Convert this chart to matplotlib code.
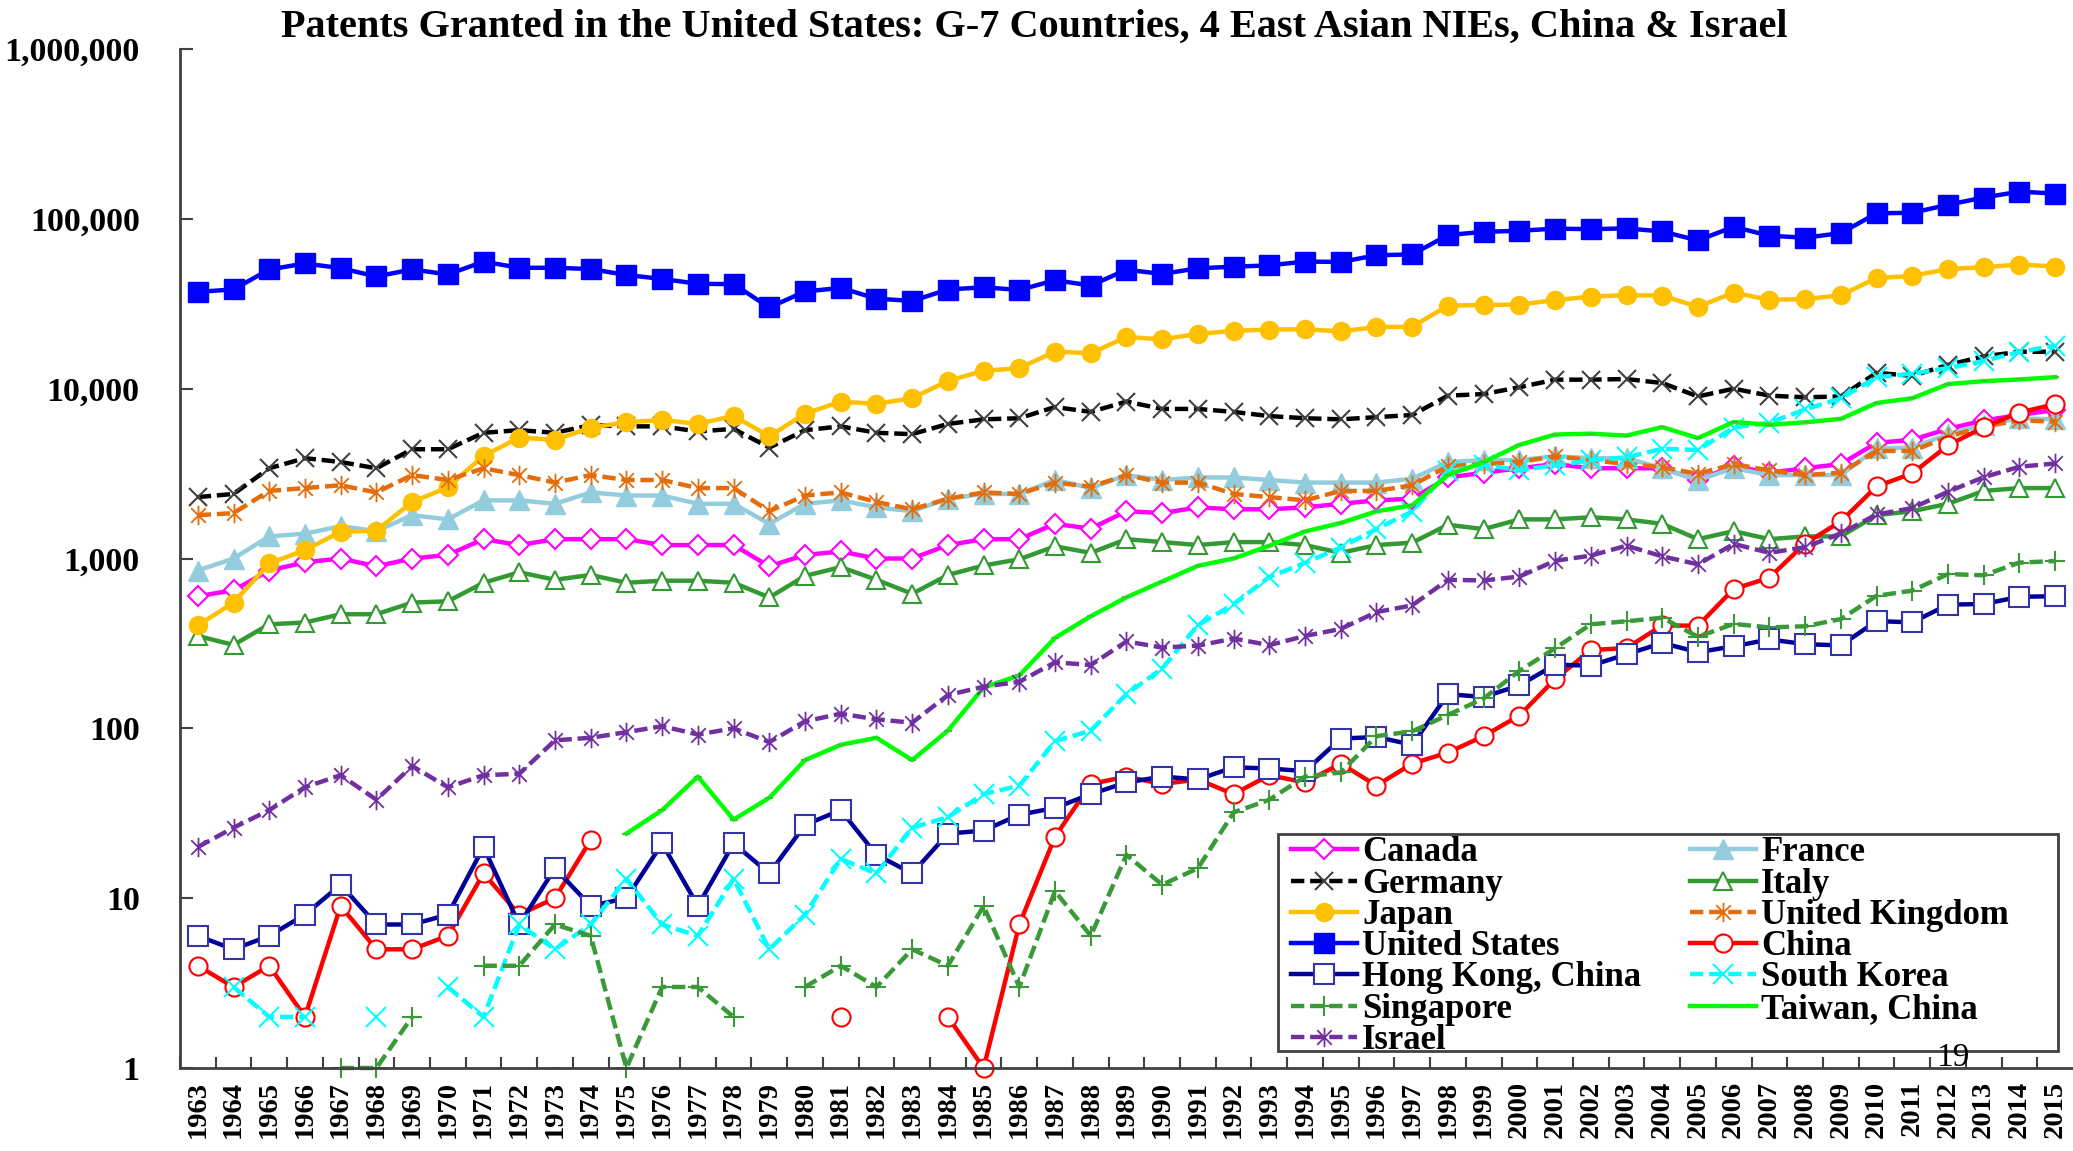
import numpy as np
import matplotlib
matplotlib.use("Agg")
import matplotlib.pyplot as plt
from matplotlib.path import Path
from matplotlib.patches import Rectangle
from matplotlib.ticker import FixedLocator, NullFormatter

nan = np.nan
years = list(range(1963, 2016))

canada = [600, 650, 850, 950, 1000, 900, 1000, 1050, 1300, 1200, 1300, 1300, 1300, 1200, 1200, 1200, 900,
          1050, 1100, 1000, 1000, 1200, 1300, 1300, 1600, 1500, 1900, 1850, 2000, 1950, 1950, 2000, 2100,
          2200, 2250, 3000, 3200, 3400, 3600, 3400, 3400, 3400, 2900, 3500, 3200, 3400, 3600, 4800, 5000,
          5800, 6500, 7000, 7500]
france = [850, 1000, 1350, 1400, 1550, 1450, 1800, 1700, 2200, 2200, 2100, 2450, 2350, 2350, 2100, 2100, 1600,
          2100, 2200, 2000, 1900, 2250, 2400, 2400, 2900, 2600, 3100, 2900, 3000, 3000, 2900, 2800, 2800,
          2800, 2950, 3700, 3800, 3800, 4000, 3900, 3900, 3400, 2900, 3400, 3100, 3100, 3100, 4450, 4500,
          5400, 6100, 6700, 6600]
germany = [2300, 2400, 3400, 3900, 3700, 3400, 4400, 4400, 5500, 5700, 5500, 6100, 6000, 6000, 5600, 5800, 4500,
           5700, 6000, 5500, 5400, 6200, 6600, 6700, 7800, 7300, 8400, 7600, 7600, 7300, 6900, 6700, 6600,
           6800, 7000, 9100, 9300, 10200, 11300, 11300, 11400, 10800, 9000, 10000, 9100, 8900, 9000, 12400,
           11900, 13800, 15500, 16500, 16500]
italy = [350, 310, 410, 420, 470, 470, 550, 560, 720, 830, 750, 800, 720, 740, 740, 720, 590,
         790, 890, 750, 620, 800, 910, 990, 1180, 1080, 1300, 1250, 1200, 1250, 1250, 1200, 1080,
         1200, 1240, 1580, 1490, 1700, 1700, 1750, 1700, 1600, 1300, 1450, 1300, 1350, 1350, 1800, 1900,
         2100, 2500, 2600, 2600]
japan = [404, 550, 935, 1122, 1435, 1460, 2152, 2625, 4029, 5151, 5000, 5888, 6352, 6542, 6211, 6911, 5251,
         7124, 8389, 8149, 8793, 11110, 12746, 13209, 16557, 16158, 20168, 19525, 21025, 21925, 22293, 22384,
         21764, 23053, 23179, 30840, 31104, 31295, 33223, 34858, 35515, 35348, 30341, 36807, 33354, 33682,
         35501, 44813, 46139, 50677, 51919, 53848, 52409]
uk = [1800, 1850, 2500, 2600, 2700, 2450, 3100, 2900, 3400, 3100, 2800, 3100, 2900, 2900, 2600, 2600, 1900,
      2350, 2450, 2150, 1950, 2250, 2450, 2400, 2800, 2650, 3100, 2800, 2800, 2400, 2300, 2200, 2500,
      2500, 2700, 3500, 3600, 3700, 4000, 3800, 3600, 3450, 3150, 3600, 3300, 3100, 3200, 4300, 4300,
      5200, 6000, 6500, 6400]
usa = [37174, 38410, 50331, 54634, 51274, 45781, 50394, 47077, 55988, 51524, 51504, 50650, 46715, 44280,
       41484, 41254, 30079, 37356, 39224, 33896, 32871, 38364, 39556, 38126, 43518, 40497, 50184, 47391,
       51177, 52253, 53231, 56066, 55739, 61104, 61707, 80289, 83905, 85068, 87600, 86971, 87893, 84270,
       74637, 89823, 79526, 77501, 82382, 107791, 108622, 121026, 133593, 144621, 140969]
china = [4, 3, 4, 2, 9, 5, 5, 6, 14, 8, 10, 22, nan, nan, nan, nan, nan,
         nan, 2, nan, nan, 2, 1, 7, 23, 47, 52, 47, 50, 41, 53, 48, 62,
         46, 62, 72, 90, 119, 195, 289, 297, 404, 402, 661, 772, 1225, 1655, 2657, 3174,
         4637, 5928, 7236, 8116]
hong_kong = [6, 5, 6, 8, 12, 7, 7, 8, 20, 7, 15, 9, 10, 21, 9, 21, 14,
             27, 33, 18, 14, 24, 25, 31, 34, 41, 48, 52, 50, 59, 58, 56, 87,
             89, 80, 159, 153, 179, 237, 234, 273, 318, 281, 304, 334, 313, 308, 428, 421,
             535, 540, 595, 600]
south_korea = [nan, 3, 2, 2, nan, 2, nan, 3, 2, 7, 5, 7, 13, 7, 6, 13, 5,
               8, 17, 14, 26, 30, 41, 46, 84, 97, 159, 225, 405, 538, 779, 943, 1161,
               1493, 1891, 3259, 3562, 3314, 3538, 3786, 3944, 4428, 4352, 5908, 6295, 7548, 8762, 11671,
               12262, 13233, 14548, 16469, 17924]
singapore = [nan, nan, nan, nan, 1, 1, 2, nan, 4, 4, 7, 6, 1, 3, 3, 2, nan,
             3, 4, 3, 5, 4, 9, 3, 11, 6, 18, 12, 15, 32, 38, 52, 55,
             90, 96, 120, 150, 218, 296, 410, 427, 448, 346, 412, 393, 399, 440, 603, 647,
             810, 797, 946, 966]
taiwan = [nan, nan, nan, nan, nan, nan, nan, nan, nan, nan, 1, nan, 24, 33, 52, 29, 39,
          65, 80, 88, 65, 97, 174, 205, 341, 457, 591, 732, 906, 1001, 1189, 1443, 1620,
          1897, 2057, 3100, 3693, 4667, 5371, 5431, 5298, 5938, 5118, 6361, 6128, 6339, 6642, 8238,
          8781, 10646, 11071, 11332, 11690]
israel = [20, 26, 33, 45, 53, 38, 60, 45, 53, 54, 85, 88, 95, 103, 92, 100, 83,
          110, 122, 113, 108, 157, 176, 188, 245, 236, 325, 299, 307, 338, 309, 350, 385,
          484, 530, 749, 743, 783, 970, 1040, 1190, 1030, 924, 1218, 1081, 1166, 1404, 1819,
          1981, 2474, 3012, 3471, 3628]

ytick_values = [1, 10, 100, 1000, 10000, 100000, 1000000]
ytick_labels = ["1", "10", "100", "1,000", "10,000", "100,000", "1,000,000"]
title = "Patents Granted in the United States: G-7 Countries, 4 East Asian NIEs, China & Israel"

SERIF = ["Liberation Serif", "DejaVu Serif"]
plt.rcParams["font.family"] = SERIF

asterisk = Path([(0, -1), (0, 1), (-0.75, -0.75), (0.75, 0.75), (-0.75, 0.75), (0.75, -0.75)],
                [Path.MOVETO, Path.LINETO, Path.MOVETO, Path.LINETO, Path.MOVETO, Path.LINETO])

dash = (3.0, 1.3)
series = [
    ("Canada", canada, dict(color="#FF00FF", ls="-", marker="D", ms=10, mfc="white", mec="#FF00FF", mew=1.5)),
    ("France", france, dict(color="#93CDDD", ls="-", marker="^", ms=14, mfc="#93CDDD", mec="#93CDDD")),
    ("Germany", germany, dict(color="black", ls="--", dashes=dash, marker="x", ms=13, mec="#404040", mew=1.5)),
    ("Italy", italy, dict(color="#339933", ls="-", marker="^", ms=13, mfc="white", mec="#339933", mew=1.5)),
    ("Japan", japan, dict(color="#FFC000", ls="-", marker="o", ms=13, mfc="#FFC000", mec="#FFC000")),
    ("United Kingdom", uk, dict(color="#E46C0A", ls="--", dashes=dash, marker=asterisk, ms=14, mec="#E46C0A", mew=1.3)),
    ("United States", usa, dict(color="#0000FF", ls="-", marker="s", ms=14, mfc="#0000FF", mec="#0000FF")),
    ("China", china, dict(color="#FF0000", ls="-", marker="o", ms=13, mfc="white", mec="#FF0000", mew=1.5)),
    ("Hong Kong, China", hong_kong, dict(color="#000099", ls="-", marker="s", ms=14, mfc="white", mec="#3333AA", mew=1.5)),
    ("South Korea", south_korea, dict(color="#00FFFF", ls="--", dashes=dash, marker="x", ms=14, mec="#00FFFF", mew=1.5)),
    ("Singapore", singapore, dict(color="#3A9A3A", ls="--", dashes=dash, marker="+", ms=14, mec="#3A9A3A", mew=1.5)),
    ("Taiwan, China", taiwan, dict(color="#00FF00", ls="-", marker="_", ms=6, mec="#33CC33", mew=1.5)),
    ("Israel", israel, dict(color="#7030A0", ls="--", dashes=dash, marker=asterisk, ms=14, mec="#7030A0", mew=1.3)),
]

fig = plt.figure(figsize=(20.73, 11.51), dpi=100)
ax = fig.add_axes([0.0868, 0.0721, 0.9132, 0.8853])

handles = {}
for name, vals, kw in series:
    ln, = ax.plot(years, vals, lw=3.2, label=name, clip_on=False, **kw)
    handles[name] = ln

ax.set_yscale("log")
ax.set_ylim(1, 1000000)
ax.set_xlim(1962.5, 2015.5)

ax.yaxis.set_major_locator(FixedLocator(ytick_values))
ax.set_yticklabels(ytick_labels, fontsize=24.5, fontweight="bold")
ax.yaxis.set_minor_formatter(NullFormatter())
ax.yaxis.set_minor_locator(FixedLocator([]))
ax.tick_params(axis="y", direction="in", length=9, width=1.5, color="#404040", pad=29)

ax.set_xticks(years)
ax.set_xticklabels([str(y) for y in years], rotation=90, fontsize=20.5, fontweight="bold")
ax.set_xticks([y + 0.5 for y in years[:-1]] + [1962.5], minor=True)
ax.tick_params(axis="x", which="major", length=0, pad=9)
ax.tick_params(axis="x", which="minor", direction="in", length=8, width=1.5, color="#404040")

for s in ["top", "right"]:
    ax.spines[s].set_visible(False)
for s in ["left", "bottom"]:
    ax.spines[s].set_color("#404040")
    ax.spines[s].set_linewidth(2)

# legend frame drawn as a box at the reference position
box = Rectangle((0.580, 0.0167), 0.4121, 0.2129, transform=ax.transAxes, facecolor="white",
                edgecolor="#404040", lw=2, zorder=4, clip_on=False)
ax.add_patch(box)

order = ["Canada", "Germany", "Japan", "United States", "Hong Kong, China", "Singapore", "Israel",
         "France", "Italy", "United Kingdom", "China", "South Korea", "Taiwan, China"]
leg = ax.legend([handles[n] for n in order], order, ncol=2, loc="upper left",
                bbox_to_anchor=(0.5815, 0.2375), prop=dict(family=SERIF, weight="bold", size=25),
                frameon=False, handlelength=1.9, handletextpad=0.15, labelspacing=-0.05,
                columnspacing=1.4, borderpad=0.3, borderaxespad=0)
leg.set_zorder(5)

fig.text(0.499, 0.976, title, ha="center", va="center", fontsize=29, fontweight="bold")
fig.text(0.942, 0.081, "19", ha="center", va="center", fontsize=24)

fig.savefig("out.png", dpi=100)
